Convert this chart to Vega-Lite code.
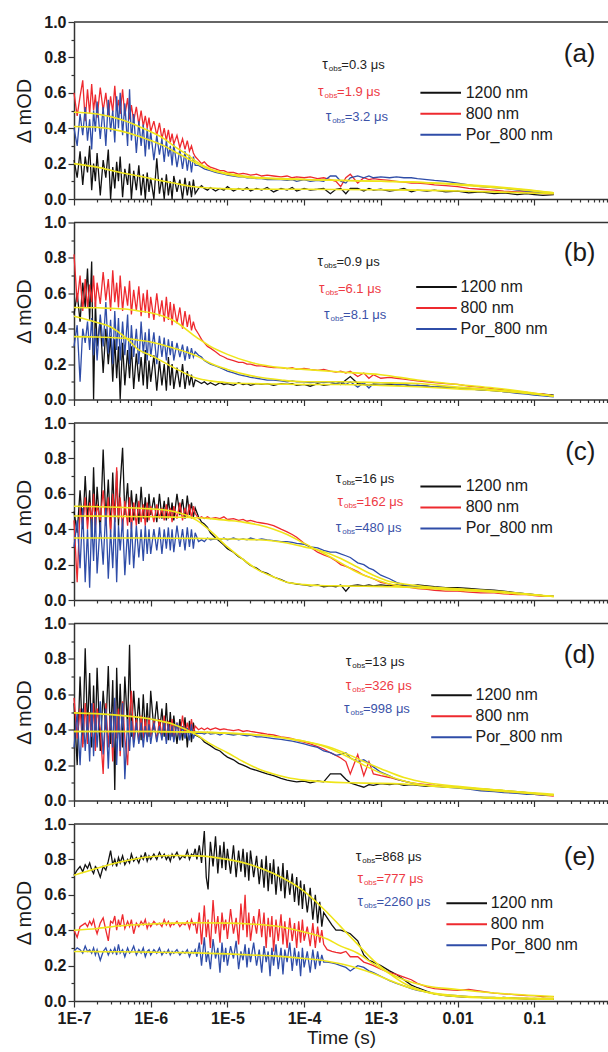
{
"$schema": "https://vega.github.io/schema/vega-lite/v6.json",
"padding": {"left": 14, "top": 14, "right": 0, "bottom": 4},
"spacing": 7.5,
"datasets": {
"a": [
{"t":1e-7,"k":0.22,"r":0.6,"b":0.4},{"t":1.1e-7,"k":0.12,"r":0.47,"b":0.3},{"t":1.2e-7,"k":0.27,"r":0.58,"b":0.48},{"t":1.3e-7,"k":0.08,"r":0.67,"b":0.36},{"t":1.4e-7,"k":0.24,"r":0.44,"b":0.52},{"t":1.5e-7,"k":0.15,"r":0.62,"b":0.33},{"t":1.6e-7,"k":0.3,"r":0.48,"b":0.45},{"t":1.7e-7,"k":0.05,"r":0.65,"b":0.28},{"t":1.8e-7,"k":0.2,"r":0.5,"b":0.5},{"t":1.9e-7,"k":0.1,"r":0.59,"b":0.38},
{"t":2e-7,"k":0.26,"r":0.46,"b":0.55},{"t":2.2e-7,"k":0.02,"r":0.63,"b":0.34},{"t":2.4e-7,"k":0.22,"r":0.5,"b":0.52},{"t":2.6e-7,"k":0.12,"r":0.6,"b":0.3},{"t":2.8e-7,"k":0.28,"r":0.47,"b":0.56},{"t":3e-7,"k":0,"r":0.58,"b":0.38},{"t":3.2e-7,"k":0.18,"r":0.49,"b":0.5},{"t":3.4e-7,"k":0.06,"r":0.64,"b":0.32},{"t":3.6e-7,"k":0.21,"r":0.5,"b":0.58},{"t":3.8e-7,"k":0.1,"r":0.56,"b":0.4},
{"t":4e-7,"k":0.24,"r":0.48,"b":0.6},{"t":4.3e-7,"k":0.01,"r":0.62,"b":0.36},{"t":4.6e-7,"k":0.17,"r":0.47,"b":0.54},{"t":5e-7,"k":0.08,"r":0.57,"b":0.3},{"t":5.3e-7,"k":0.2,"r":0.45,"b":0.62},{"t":5.6e-7,"k":0,"r":0.53,"b":0.33},{"t":6e-7,"k":0.16,"r":0.44,"b":0.48},{"t":6.5e-7,"k":0.05,"r":0.52,"b":0.26},{"t":7e-7,"k":0.19,"r":0.42,"b":0.44},{"t":7.5e-7,"k":0.02,"r":0.5,"b":0.3},
{"t":8e-7,"k":0.14,"r":0.41,"b":0.42},{"t":8.5e-7,"k":0,"r":0.47,"b":0.24},{"t":9e-7,"k":0.15,"r":0.4,"b":0.4},{"t":9.5e-7,"k":0.04,"r":0.46,"b":0.28},{"t":1e-6,"k":0.12,"r":0.38,"b":0.38},{"t":1.1e-6,"k":0,"r":0.44,"b":0.22},{"t":1.2e-6,"k":0.23,"r":0.36,"b":0.36},{"t":1.3e-6,"k":0.03,"r":0.43,"b":0.25},{"t":1.4e-6,"k":0.12,"r":0.34,"b":0.34},{"t":1.5e-6,"k":0,"r":0.4,"b":0.21},
{"t":1.6e-6,"k":0.14,"r":0.33,"b":0.33},{"t":1.7e-6,"k":0.02,"r":0.39,"b":0.24},{"t":1.8e-6,"k":0.1,"r":0.32,"b":0.3},{"t":1.9e-6,"k":0,"r":0.37,"b":0.19},{"t":2e-6,"k":0.13,"r":0.31,"b":0.31},{"t":2.2e-6,"k":0.04,"r":0.36,"b":0.18},{"t":2.4e-6,"k":0.11,"r":0.29,"b":0.28},{"t":2.6e-6,"k":0,"r":0.34,"b":0.17},{"t":2.8e-6,"k":0.12,"r":0.28,"b":0.27},{"t":3e-6,"k":0.02,"r":0.33,"b":0.16},
{"t":3.2e-6,"k":0.1,"r":0.27,"b":0.25},{"t":3.4e-6,"k":0.01,"r":0.3,"b":0.15},{"t":3.6e-6,"k":0.11,"r":0.26,"b":0.24},{"t":3.8e-6,"k":0.03,"r":0.24,"b":0.19},
{"t":4.2e-6,"k":0.06,"r":0.22,"b":0.19},{"t":4.6e-6,"k":0.075,"r":0.2,"b":0.18},{"t":5e-6,"k":0.06,"r":0.21,"b":0.17},{"t":5.5e-6,"k":0.05,"r":0.19,"b":0.165},{"t":6e-6,"k":0.065,"r":0.18,"b":0.16},{"t":7e-6,"k":0.045,"r":0.17,"b":0.15},{"t":8e-6,"k":0.06,"r":0.16,"b":0.145},{"t":9e-6,"k":0.05,"r":0.16,"b":0.14},{"t":1e-5,"k":0.07,"r":0.15,"b":0.135},{"t":1.2e-5,"k":0.045,"r":0.15,"b":0.13},
{"t":1.4e-5,"k":0.06,"r":0.14,"b":0.125},{"t":1.6e-5,"k":0.05,"r":0.145,"b":0.125},{"t":1.8e-5,"k":0.065,"r":0.14,"b":0.12},{"t":2e-5,"k":0.045,"r":0.135,"b":0.12},{"t":2.4e-5,"k":0.06,"r":0.14,"b":0.115},{"t":2.8e-5,"k":0.05,"r":0.13,"b":0.115},{"t":3.3e-5,"k":0.065,"r":0.135,"b":0.11},{"t":4e-5,"k":0.04,"r":0.13,"b":0.11},{"t":5e-5,"k":0.06,"r":0.125,"b":0.11},{"t":6e-5,"k":0.05,"r":0.13,"b":0.105},
{"t":7e-5,"k":0.065,"r":0.12,"b":0.11},{"t":8e-5,"k":0.045,"r":0.125,"b":0.1},{"t":1e-4,"k":0.06,"r":0.12,"b":0.11},{"t":1.2e-4,"k":0.05,"r":0.125,"b":0.1},{"t":1.5e-4,"k":0.055,"r":0.115,"b":0.105},{"t":1.8e-4,"k":0.06,"r":0.12,"b":0.1},{"t":2.2e-4,"k":0.03,"r":0.11,"b":0.13},{"t":2.6e-4,"k":0.055,"r":0.1,"b":0.13},{"t":3e-4,"k":0.06,"r":0.07,"b":0.1},{"t":3.5e-4,"k":0.03,"r":0.12,"b":0.09},
{"t":4e-4,"k":0.06,"r":0.14,"b":0.12},{"t":5e-4,"k":0.06,"r":0.09,"b":0.13},{"t":6e-4,"k":0.045,"r":0.12,"b":0.12},{"t":7e-4,"k":0.06,"r":0.11,"b":0.13},{"t":8e-4,"k":0.05,"r":0.115,"b":0.12},{"t":1e-3,"k":0.055,"r":0.11,"b":0.125},{"t":1.3e-3,"k":0.045,"r":0.105,"b":0.12},{"t":1.6e-3,"k":0.05,"r":0.1,"b":0.125},{"t":2e-3,"k":0.06,"r":0.095,"b":0.12},{"t":2.5e-3,"k":0.04,"r":0.09,"b":0.12},
{"t":3e-3,"k":0.05,"r":0.09,"b":0.115},{"t":4e-3,"k":0.045,"r":0.085,"b":0.11},{"t":5e-3,"k":0.05,"r":0.08,"b":0.105},{"t":7e-3,"k":0.04,"r":0.075,"b":0.1},{"t":1e-2,"k":0.045,"r":0.07,"b":0.09},{"t":1.4e-2,"k":0.035,"r":0.06,"b":0.08},{"t":2e-2,"k":0.04,"r":0.055,"b":0.07},{"t":3e-2,"k":0.03,"r":0.05,"b":0.065},{"t":4e-2,"k":0.035,"r":0.045,"b":0.06},{"t":6e-2,"k":0.025,"r":0.04,"b":0.05},
{"t":8e-2,"k":0.03,"r":0.04,"b":0.045},{"t":0.1,"k":0.025,"r":0.035,"b":0.04},{"t":0.13,"k":0.02,"r":0.03,"b":0.035},{"t":0.18,"k":0.025,"r":0.03,"b":0.03}
],
"af": [
{"t":1e-7,"k":0.2,"r":0.49,"b":0.41},{"t":2e-7,"k":0.18,"r":0.48,"b":0.405},{"t":4e-7,"k":0.15,"r":0.45,"b":0.385},{"t":7e-7,"k":0.13,"r":0.41,"b":0.355},{"t":1e-6,"k":0.115,"r":0.38,"b":0.33},{"t":1.5e-6,"k":0.1,"r":0.34,"b":0.3},{"t":2e-6,"k":0.09,"r":0.3,"b":0.27},{"t":3e-6,"k":0.075,"r":0.25,"b":0.23},{"t":4e-6,"k":0.068,"r":0.21,"b":0.2},{"t":6e-6,"k":0.062,"r":0.17,"b":0.165},
{"t":1e-5,"k":0.057,"r":0.145,"b":0.14},{"t":2e-5,"k":0.055,"r":0.125,"b":0.12},{"t":5e-5,"k":0.055,"r":0.115,"b":0.112},{"t":1e-4,"k":0.055,"r":0.11,"b":0.11},{"t":1e-3,"k":0.052,"r":0.1,"b":0.1},{"t":3e-3,"k":0.05,"r":0.095,"b":0.095},{"t":1e-2,"k":0.045,"r":0.08,"b":0.085},{"t":3e-2,"k":0.04,"r":0.065,"b":0.07},{"t":0.18,"k":0.03,"r":0.035,"b":0.035}
],
"b": [
{"t":1e-7,"k":0.48,"r":0.82,"b":0.3},{"t":1.1e-7,"k":0.6,"r":0.55,"b":0.42},{"t":1.2e-7,"k":0.44,"r":0.7,"b":0.1},{"t":1.3e-7,"k":0.66,"r":0.5,"b":0.4},{"t":1.4e-7,"k":0.52,"r":0.68,"b":0.32},{"t":1.5e-7,"k":0.74,"r":0.52,"b":0.44},{"t":1.6e-7,"k":0.45,"r":0.65,"b":0.28},{"t":1.7e-7,"k":0.78,"r":0.55,"b":0.46},{"t":1.8e-7,"k":0,"r":0.7,"b":0.25},{"t":1.9e-7,"k":0.55,"r":0.52,"b":0.4},
{"t":2e-7,"k":0.3,"r":0.66,"b":0.22},{"t":2.2e-7,"k":0.45,"r":0.54,"b":0.48},{"t":2.4e-7,"k":0.15,"r":0.72,"b":0.3},{"t":2.6e-7,"k":0.4,"r":0.56,"b":0.55},{"t":2.8e-7,"k":0.2,"r":0.68,"b":0.26},{"t":3e-7,"k":0.36,"r":0.5,"b":0.45},{"t":3.2e-7,"k":0.1,"r":0.73,"b":0.2},{"t":3.4e-7,"k":0.34,"r":0.55,"b":0.5},{"t":3.6e-7,"k":0.12,"r":0.66,"b":0.28},{"t":3.8e-7,"k":0.3,"r":0.52,"b":0.46},
{"t":4e-7,"k":0,"r":0.7,"b":0.22},{"t":4.3e-7,"k":0.32,"r":0.5,"b":0.44},{"t":4.6e-7,"k":0.08,"r":0.64,"b":0.25},{"t":5e-7,"k":0.28,"r":0.53,"b":0.48},{"t":5.3e-7,"k":0.12,"r":0.67,"b":0.2},{"t":5.6e-7,"k":0.3,"r":0.48,"b":0.42},{"t":6e-7,"k":0.06,"r":0.62,"b":0.24},{"t":6.5e-7,"k":0.26,"r":0.5,"b":0.4},{"t":7e-7,"k":0.1,"r":0.64,"b":0.2},{"t":7.5e-7,"k":0.24,"r":0.47,"b":0.44},
{"t":8e-7,"k":0.08,"r":0.6,"b":0.26},{"t":8.5e-7,"k":0.28,"r":0.49,"b":0.38},{"t":9e-7,"k":0.06,"r":0.62,"b":0.22},{"t":9.5e-7,"k":0.22,"r":0.46,"b":0.4},{"t":1e-6,"k":0.1,"r":0.58,"b":0.24},{"t":1.1e-6,"k":0.25,"r":0.45,"b":0.38},{"t":1.2e-6,"k":0.05,"r":0.6,"b":0.2},{"t":1.3e-6,"k":0.22,"r":0.47,"b":0.36},{"t":1.4e-6,"k":0.08,"r":0.56,"b":0.24},{"t":1.5e-6,"k":0.2,"r":0.44,"b":0.35},
{"t":1.6e-6,"k":0.05,"r":0.58,"b":0.22},{"t":1.7e-6,"k":0.24,"r":0.45,"b":0.34},{"t":1.8e-6,"k":0.08,"r":0.55,"b":0.25},{"t":1.9e-6,"k":0.2,"r":0.42,"b":0.33},{"t":2e-6,"k":0.06,"r":0.54,"b":0.22},{"t":2.2e-6,"k":0.18,"r":0.43,"b":0.32},{"t":2.4e-6,"k":0.07,"r":0.52,"b":0.24},{"t":2.6e-6,"k":0.2,"r":0.4,"b":0.31},{"t":2.8e-6,"k":0.06,"r":0.5,"b":0.22},{"t":3e-6,"k":0.16,"r":0.41,"b":0.3},
{"t":3.2e-6,"k":0.08,"r":0.48,"b":0.23},{"t":3.4e-6,"k":0.14,"r":0.39,"b":0.29},{"t":3.6e-6,"k":0.07,"r":0.44,"b":0.24},{"t":3.8e-6,"k":0.11,"r":0.4,"b":0.27},
{"t":4.2e-6,"k":0.1,"r":0.37,"b":0.25},{"t":4.6e-6,"k":0.09,"r":0.34,"b":0.24},{"t":5e-6,"k":0.1,"r":0.32,"b":0.22},{"t":5.5e-6,"k":0.085,"r":0.3,"b":0.21},{"t":6e-6,"k":0.095,"r":0.29,"b":0.2},{"t":7e-6,"k":0.08,"r":0.27,"b":0.19},{"t":8e-6,"k":0.095,"r":0.25,"b":0.18},{"t":9e-6,"k":0.085,"r":0.24,"b":0.17},{"t":1e-5,"k":0.09,"r":0.23,"b":0.16},{"t":1.2e-5,"k":0.08,"r":0.22,"b":0.15},
{"t":1.4e-5,"k":0.095,"r":0.21,"b":0.14},{"t":1.6e-5,"k":0.085,"r":0.21,"b":0.135},{"t":1.8e-5,"k":0.09,"r":0.2,"b":0.13},{"t":2e-5,"k":0.08,"r":0.2,"b":0.125},{"t":2.4e-5,"k":0.09,"r":0.19,"b":0.12},{"t":2.8e-5,"k":0.085,"r":0.19,"b":0.115},{"t":3.3e-5,"k":0.09,"r":0.185,"b":0.11},{"t":4e-5,"k":0.08,"r":0.18,"b":0.11},{"t":5e-5,"k":0.09,"r":0.18,"b":0.105},{"t":6e-5,"k":0.085,"r":0.175,"b":0.1},
{"t":7e-5,"k":0.09,"r":0.18,"b":0.105},{"t":8e-5,"k":0.08,"r":0.17,"b":0.1},{"t":1e-4,"k":0.085,"r":0.175,"b":0.1},{"t":1.2e-4,"k":0.075,"r":0.17,"b":0.095},{"t":1.5e-4,"k":0.09,"r":0.165,"b":0.1},{"t":1.8e-4,"k":0.08,"r":0.17,"b":0.095},{"t":2.2e-4,"k":0.085,"r":0.16,"b":0.1},{"t":2.6e-4,"k":0.09,"r":0.155,"b":0.09},{"t":3e-4,"k":0.085,"r":0.16,"b":0.1},{"t":3.5e-4,"k":0.11,"r":0.15,"b":0.085},
{"t":4e-4,"k":0.13,"r":0.16,"b":0.1},{"t":5e-4,"k":0.09,"r":0.13,"b":0.07},{"t":6e-4,"k":0.085,"r":0.15,"b":0.095},{"t":7e-4,"k":0.08,"r":0.12,"b":0.065},{"t":8e-4,"k":0.085,"r":0.14,"b":0.09},{"t":1e-3,"k":0.08,"r":0.12,"b":0.085},{"t":1.3e-3,"k":0.085,"r":0.125,"b":0.09},{"t":1.6e-3,"k":0.08,"r":0.12,"b":0.085},{"t":2e-3,"k":0.085,"r":0.115,"b":0.085},{"t":2.5e-3,"k":0.075,"r":0.11,"b":0.08},
{"t":3e-3,"k":0.08,"r":0.105,"b":0.08},{"t":4e-3,"k":0.075,"r":0.1,"b":0.075},{"t":5e-3,"k":0.07,"r":0.095,"b":0.07},{"t":7e-3,"k":0.07,"r":0.09,"b":0.07},{"t":1e-2,"k":0.065,"r":0.085,"b":0.065},{"t":1.4e-2,"k":0.06,"r":0.075,"b":0.06},{"t":2e-2,"k":0.055,"r":0.07,"b":0.055},{"t":3e-2,"k":0.05,"r":0.06,"b":0.05},{"t":4e-2,"k":0.045,"r":0.055,"b":0.045},{"t":6e-2,"k":0.04,"r":0.045,"b":0.035},
{"t":8e-2,"k":0.035,"r":0.04,"b":0.03},{"t":0.1,"k":0.03,"r":0.035,"b":0.025},{"t":0.13,"k":0.03,"r":0.03,"b":0.02},{"t":0.18,"k":0.025,"r":0.02,"b":0.015}
],
"bf": [
{"t":1e-7,"k":0.47,"r":0.52,"b":0.355},{"t":2e-7,"k":0.435,"r":0.518,"b":0.353},{"t":3e-7,"k":0.41,"r":0.515,"b":0.35},{"t":5e-7,"k":0.34,"r":0.51,"b":0.345},{"t":7e-7,"k":0.28,"r":0.5,"b":0.335},{"t":1e-6,"k":0.25,"r":0.49,"b":0.325},{"t":2e-6,"k":0.18,"r":0.445,"b":0.29},{"t":4e-6,"k":0.12,"r":0.35,"b":0.245},{"t":6e-6,"k":0.105,"r":0.3,"b":0.205},{"t":1e-5,"k":0.095,"r":0.255,"b":0.17},
{"t":2e-5,"k":0.09,"r":0.21,"b":0.135},{"t":5e-5,"k":0.087,"r":0.18,"b":0.11},{"t":1e-4,"k":0.085,"r":0.17,"b":0.1},{"t":3e-4,"k":0.085,"r":0.155,"b":0.1},{"t":1e-3,"k":0.08,"r":0.14,"b":0.095},{"t":3e-3,"k":0.072,"r":0.11,"b":0.09},{"t":1e-2,"k":0.06,"r":0.085,"b":0.07},{"t":3e-2,"k":0.05,"r":0.065,"b":0.055},{"t":0.18,"k":0.02,"r":0.02,"b":0.02}
],
"c": [
{"t":1e-7,"k":0.5,"r":0.45,"b":0.3},{"t":1.1e-7,"k":0.38,"r":0.1,"b":0.45},{"t":1.2e-7,"k":0.62,"r":0.52,"b":0.18},{"t":1.3e-7,"k":0.4,"r":0.42,"b":0.52},{"t":1.4e-7,"k":0.7,"r":0.58,"b":0.1},{"t":1.5e-7,"k":0.45,"r":0.4,"b":0.4},{"t":1.6e-7,"k":0.62,"r":0.55,"b":0.07},{"t":1.7e-7,"k":0.35,"r":0.44,"b":0.46},{"t":1.8e-7,"k":0.75,"r":0.6,"b":0.22},{"t":1.9e-7,"k":0.42,"r":0.4,"b":0.5},
{"t":2e-7,"k":0.64,"r":0.54,"b":0.15},{"t":2.2e-7,"k":0.38,"r":0.45,"b":0.44},{"t":2.4e-7,"k":0.85,"r":0.62,"b":0.2},{"t":2.6e-7,"k":0.45,"r":0.42,"b":0.52},{"t":2.8e-7,"k":0.68,"r":0.58,"b":0.12},{"t":3e-7,"k":0.4,"r":0.38,"b":0.4},{"t":3.2e-7,"k":0.72,"r":0.6,"b":0.18},{"t":3.4e-7,"k":0.44,"r":0.44,"b":0.48},{"t":3.6e-7,"k":0.73,"r":0.75,"b":0.1},{"t":3.8e-7,"k":0.42,"r":0.46,"b":0.42},
{"t":4e-7,"k":0.65,"r":0.58,"b":0.28},{"t":4.3e-7,"k":0.86,"r":0.4,"b":0.46},{"t":4.6e-7,"k":0.48,"r":0.56,"b":0.14},{"t":5e-7,"k":0.66,"r":0.42,"b":0.4},{"t":5.3e-7,"k":0.44,"r":0.58,"b":0.2},{"t":5.6e-7,"k":0.62,"r":0.4,"b":0.44},{"t":6e-7,"k":0.45,"r":0.55,"b":0.18},{"t":6.5e-7,"k":0.6,"r":0.42,"b":0.42},{"t":7e-7,"k":0.43,"r":0.56,"b":0.24},{"t":7.5e-7,"k":0.64,"r":0.44,"b":0.4},
{"t":8e-7,"k":0.46,"r":0.54,"b":0.22},{"t":8.5e-7,"k":0.58,"r":0.42,"b":0.42},{"t":9e-7,"k":0.44,"r":0.55,"b":0.26},{"t":9.5e-7,"k":0.6,"r":0.45,"b":0.4},{"t":1e-6,"k":0.48,"r":0.53,"b":0.26},{"t":1.1e-6,"k":0.58,"r":0.44,"b":0.4},{"t":1.2e-6,"k":0.44,"r":0.54,"b":0.28},{"t":1.3e-6,"k":0.6,"r":0.46,"b":0.41},{"t":1.4e-6,"k":0.46,"r":0.52,"b":0.26},{"t":1.5e-6,"k":0.56,"r":0.45,"b":0.4},
{"t":1.6e-6,"k":0.45,"r":0.54,"b":0.29},{"t":1.7e-6,"k":0.58,"r":0.46,"b":0.41},{"t":1.8e-6,"k":0.47,"r":0.52,"b":0.28},{"t":1.9e-6,"k":0.55,"r":0.44,"b":0.4},{"t":2e-6,"k":0.45,"r":0.53,"b":0.27},{"t":2.2e-6,"k":0.6,"r":0.46,"b":0.42},{"t":2.4e-6,"k":0.48,"r":0.55,"b":0.3},{"t":2.6e-6,"k":0.57,"r":0.45,"b":0.4},{"t":2.8e-6,"k":0.46,"r":0.52,"b":0.28},{"t":3e-6,"k":0.59,"r":0.47,"b":0.41},
{"t":3.2e-6,"k":0.48,"r":0.54,"b":0.3},{"t":3.4e-6,"k":0.55,"r":0.46,"b":0.4},{"t":3.6e-6,"k":0.47,"r":0.53,"b":0.29},{"t":3.8e-6,"k":0.52,"r":0.49,"b":0.38},
{"t":4.2e-6,"k":0.47,"r":0.46,"b":0.33},{"t":4.6e-6,"k":0.44,"r":0.47,"b":0.34},{"t":5e-6,"k":0.43,"r":0.46,"b":0.33},{"t":5.5e-6,"k":0.41,"r":0.47,"b":0.35},{"t":6e-6,"k":0.38,"r":0.46,"b":0.34},{"t":7e-6,"k":0.35,"r":0.465,"b":0.345},{"t":8e-6,"k":0.33,"r":0.46,"b":0.34},{"t":9e-6,"k":0.31,"r":0.47,"b":0.35},{"t":1e-5,"k":0.29,"r":0.455,"b":0.34},{"t":1.2e-5,"k":0.27,"r":0.46,"b":0.35},
{"t":1.4e-5,"k":0.245,"r":0.45,"b":0.34},{"t":1.6e-5,"k":0.23,"r":0.455,"b":0.345},{"t":1.8e-5,"k":0.21,"r":0.445,"b":0.34},{"t":2e-5,"k":0.195,"r":0.45,"b":0.35},{"t":2.4e-5,"k":0.18,"r":0.44,"b":0.34},{"t":2.8e-5,"k":0.16,"r":0.435,"b":0.345},{"t":3.3e-5,"k":0.15,"r":0.43,"b":0.34},{"t":4e-5,"k":0.13,"r":0.42,"b":0.335},{"t":5e-5,"k":0.115,"r":0.4,"b":0.33},{"t":6e-5,"k":0.1,"r":0.385,"b":0.33},
{"t":7e-5,"k":0.095,"r":0.37,"b":0.325},{"t":8e-5,"k":0.09,"r":0.355,"b":0.32},{"t":1e-4,"k":0.085,"r":0.32,"b":0.315},{"t":1.2e-4,"k":0.08,"r":0.3,"b":0.3},{"t":1.5e-4,"k":0.085,"r":0.27,"b":0.295},{"t":1.8e-4,"k":0.075,"r":0.255,"b":0.28},{"t":2.2e-4,"k":0.08,"r":0.24,"b":0.27},{"t":2.6e-4,"k":0.075,"r":0.22,"b":0.27},{"t":3e-4,"k":0.085,"r":0.2,"b":0.26},{"t":3.5e-4,"k":0.05,"r":0.19,"b":0.25},
{"t":4e-4,"k":0.08,"r":0.18,"b":0.24},{"t":5e-4,"k":0.085,"r":0.16,"b":0.21},{"t":6e-4,"k":0.08,"r":0.14,"b":0.2},{"t":7e-4,"k":0.085,"r":0.13,"b":0.18},{"t":8e-4,"k":0.08,"r":0.12,"b":0.17},{"t":1e-3,"k":0.085,"r":0.1,"b":0.14},{"t":1.3e-3,"k":0.08,"r":0.09,"b":0.12},{"t":1.6e-3,"k":0.085,"r":0.08,"b":0.1},{"t":2e-3,"k":0.08,"r":0.075,"b":0.085},{"t":2.5e-3,"k":0.08,"r":0.07,"b":0.08},
{"t":3e-3,"k":0.085,"r":0.065,"b":0.075},{"t":4e-3,"k":0.08,"r":0.06,"b":0.075},{"t":5e-3,"k":0.075,"r":0.055,"b":0.07},{"t":7e-3,"k":0.07,"r":0.05,"b":0.065},{"t":1e-2,"k":0.07,"r":0.05,"b":0.06},{"t":1.4e-2,"k":0.065,"r":0.045,"b":0.055},{"t":2e-2,"k":0.06,"r":0.04,"b":0.055},{"t":3e-2,"k":0.055,"r":0.04,"b":0.05},{"t":4e-2,"k":0.05,"r":0.035,"b":0.045},{"t":6e-2,"k":0.04,"r":0.03,"b":0.04},
{"t":8e-2,"k":0.035,"r":0.03,"b":0.035},{"t":0.1,"k":0.03,"r":0.025,"b":0.03},{"t":0.13,"k":0.025,"r":0.02,"b":0.025},{"t":0.18,"k":0.02,"r":0.02,"b":0.02}
],
"cf": [
{"t":1e-7,"k":0.53,"r":0.475,"b":0.35},{"t":1e-6,"k":0.515,"r":0.47,"b":0.35},{"t":2e-6,"k":0.5,"r":0.468,"b":0.349},{"t":4e-6,"k":0.45,"r":0.465,"b":0.348},{"t":6e-6,"k":0.39,"r":0.46,"b":0.347},{"t":1e-5,"k":0.3,"r":0.45,"b":0.345},{"t":1.6e-5,"k":0.23,"r":0.44,"b":0.343},{"t":2.5e-5,"k":0.17,"r":0.425,"b":0.34},{"t":4e-5,"k":0.13,"r":0.4,"b":0.333},{"t":6e-5,"k":0.1,"r":0.37,"b":0.322},
{"t":1e-4,"k":0.087,"r":0.32,"b":0.3},{"t":1.6e-4,"k":0.082,"r":0.275,"b":0.28},{"t":3e-4,"k":0.08,"r":0.21,"b":0.235},{"t":5e-4,"k":0.078,"r":0.155,"b":0.185},{"t":8e-4,"k":0.077,"r":0.12,"b":0.14},{"t":1.3e-3,"k":0.075,"r":0.09,"b":0.105},{"t":2e-3,"k":0.073,"r":0.075,"b":0.09},{"t":4e-3,"k":0.07,"r":0.065,"b":0.075},{"t":1e-2,"k":0.063,"r":0.055,"b":0.06},{"t":3e-2,"k":0.05,"r":0.045,"b":0.045},
{"t":0.18,"k":0.02,"r":0.02,"b":0.02}
],
"d": [
{"t":1e-7,"k":0.55,"r":0.58,"b":0.3},{"t":1.1e-7,"k":0.2,"r":0.35,"b":0.5},{"t":1.2e-7,"k":0.7,"r":0.52,"b":0.2},{"t":1.3e-7,"k":0.32,"r":0.3,"b":0.52},{"t":1.4e-7,"k":0.86,"r":0.55,"b":0.28},{"t":1.5e-7,"k":0.4,"r":0.32,"b":0.48},{"t":1.6e-7,"k":0.72,"r":0.5,"b":0.22},{"t":1.7e-7,"k":0.3,"r":0.36,"b":0.55},{"t":1.8e-7,"k":0.65,"r":0.55,"b":0.25},{"t":1.9e-7,"k":0.35,"r":0.28,"b":0.5},
{"t":2e-7,"k":0.75,"r":0.52,"b":0.3},{"t":2.2e-7,"k":0.28,"r":0.4,"b":0.56},{"t":2.4e-7,"k":0.62,"r":0.15,"b":0.26},{"t":2.6e-7,"k":0.4,"r":0.55,"b":0.52},{"t":2.8e-7,"k":0.76,"r":0.3,"b":0.18},{"t":3e-7,"k":0.32,"r":0.5,"b":0.5},{"t":3.2e-7,"k":0.68,"r":0.22,"b":0.3},{"t":3.4e-7,"k":0.06,"r":0.56,"b":0.58},{"t":3.6e-7,"k":0.75,"r":0.35,"b":0.2},{"t":3.8e-7,"k":0.38,"r":0.52,"b":0.48},
{"t":4e-7,"k":0.66,"r":0.25,"b":0.28},{"t":4.3e-7,"k":0.3,"r":0.56,"b":0.55},{"t":4.6e-7,"k":0.7,"r":0.35,"b":0.12},{"t":5e-7,"k":0.42,"r":0.2,"b":0.46},{"t":5.3e-7,"k":0.88,"r":0.48,"b":0.28},{"t":5.6e-7,"k":0.36,"r":0.62,"b":0.45},{"t":6e-7,"k":0.62,"r":0.34,"b":0.3},{"t":6.5e-7,"k":0.4,"r":0.46,"b":0.44},{"t":7e-7,"k":0.58,"r":0.33,"b":0.32},{"t":7.5e-7,"k":0.34,"r":0.48,"b":0.44},
{"t":8e-7,"k":0.6,"r":0.35,"b":0.3},{"t":8.5e-7,"k":0.38,"r":0.46,"b":0.42},{"t":9e-7,"k":0.55,"r":0.34,"b":0.33},{"t":9.5e-7,"k":0.36,"r":0.47,"b":0.43},{"t":1e-6,"k":0.62,"r":0.36,"b":0.32},{"t":1.1e-6,"k":0.4,"r":0.45,"b":0.44},{"t":1.2e-6,"k":0.56,"r":0.34,"b":0.33},{"t":1.3e-6,"k":0.38,"r":0.46,"b":0.42},{"t":1.4e-6,"k":0.52,"r":0.36,"b":0.34},{"t":1.5e-6,"k":0.36,"r":0.48,"b":0.44},
{"t":1.6e-6,"k":0.55,"r":0.34,"b":0.32},{"t":1.7e-6,"k":0.34,"r":0.45,"b":0.43},{"t":1.8e-6,"k":0.5,"r":0.36,"b":0.34},{"t":1.9e-6,"k":0.36,"r":0.46,"b":0.42},{"t":2e-6,"k":0.48,"r":0.35,"b":0.33},{"t":2.2e-6,"k":0.32,"r":0.44,"b":0.44},{"t":2.4e-6,"k":0.46,"r":0.36,"b":0.34},{"t":2.6e-6,"k":0.34,"r":0.48,"b":0.42},{"t":2.8e-6,"k":0.47,"r":0.37,"b":0.35},{"t":3e-6,"k":0.3,"r":0.44,"b":0.41},
{"t":3.2e-6,"k":0.45,"r":0.38,"b":0.34},{"t":3.4e-6,"k":0.33,"r":0.46,"b":0.43},{"t":3.6e-6,"k":0.44,"r":0.38,"b":0.35},{"t":3.8e-6,"k":0.37,"r":0.42,"b":0.38},
{"t":4.2e-6,"k":0.36,"r":0.4,"b":0.38},{"t":4.6e-6,"k":0.35,"r":0.41,"b":0.38},{"t":5e-6,"k":0.33,"r":0.4,"b":0.375},{"t":5.5e-6,"k":0.32,"r":0.41,"b":0.385},{"t":6e-6,"k":0.31,"r":0.4,"b":0.375},{"t":7e-6,"k":0.29,"r":0.41,"b":0.38},{"t":8e-6,"k":0.28,"r":0.4,"b":0.37},{"t":9e-6,"k":0.26,"r":0.405,"b":0.38},{"t":1e-5,"k":0.245,"r":0.4,"b":0.375},{"t":1.2e-5,"k":0.23,"r":0.395,"b":0.37},
{"t":1.4e-5,"k":0.21,"r":0.4,"b":0.375},{"t":1.6e-5,"k":0.2,"r":0.39,"b":0.37},{"t":1.8e-5,"k":0.19,"r":0.395,"b":0.365},{"t":2e-5,"k":0.18,"r":0.39,"b":0.37},{"t":2.4e-5,"k":0.17,"r":0.385,"b":0.36},{"t":2.8e-5,"k":0.16,"r":0.38,"b":0.36},{"t":3.3e-5,"k":0.15,"r":0.375,"b":0.355},{"t":4e-5,"k":0.14,"r":0.37,"b":0.35},{"t":5e-5,"k":0.125,"r":0.36,"b":0.345},{"t":6e-5,"k":0.115,"r":0.355,"b":0.34},
{"t":7e-5,"k":0.11,"r":0.35,"b":0.335},{"t":8e-5,"k":0.105,"r":0.34,"b":0.33},{"t":1e-4,"k":0.11,"r":0.33,"b":0.32},{"t":1.2e-4,"k":0.1,"r":0.32,"b":0.31},{"t":1.5e-4,"k":0.11,"r":0.305,"b":0.3},{"t":1.8e-4,"k":0.105,"r":0.29,"b":0.28},{"t":2.2e-4,"k":0.15,"r":0.27,"b":0.27},{"t":2.6e-4,"k":0.15,"r":0.255,"b":0.255},{"t":3e-4,"k":0.15,"r":0.24,"b":0.26},{"t":3.5e-4,"k":0.12,"r":0.22,"b":0.27},
{"t":4e-4,"k":0.1,"r":0.15,"b":0.24},{"t":5e-4,"k":0.085,"r":0.26,"b":0.22},{"t":6e-4,"k":0.075,"r":0.14,"b":0.23},{"t":7e-4,"k":0.09,"r":0.22,"b":0.21},{"t":8e-4,"k":0.085,"r":0.15,"b":0.19},{"t":1e-3,"k":0.095,"r":0.14,"b":0.16},{"t":1.3e-3,"k":0.09,"r":0.13,"b":0.14},{"t":1.6e-3,"k":0.095,"r":0.12,"b":0.12},{"t":2e-3,"k":0.085,"r":0.11,"b":0.11},{"t":2.5e-3,"k":0.09,"r":0.1,"b":0.1},
{"t":3e-3,"k":0.085,"r":0.095,"b":0.09},{"t":4e-3,"k":0.08,"r":0.09,"b":0.085},{"t":5e-3,"k":0.085,"r":0.085,"b":0.08},{"t":7e-3,"k":0.075,"r":0.08,"b":0.075},{"t":1e-2,"k":0.075,"r":0.075,"b":0.07},{"t":1.4e-2,"k":0.07,"r":0.07,"b":0.065},{"t":2e-2,"k":0.065,"r":0.06,"b":0.055},{"t":3e-2,"k":0.06,"r":0.055,"b":0.05},{"t":4e-2,"k":0.055,"r":0.05,"b":0.045},{"t":6e-2,"k":0.05,"r":0.045,"b":0.04},
{"t":8e-2,"k":0.045,"r":0.04,"b":0.035},{"t":0.1,"k":0.04,"r":0.035,"b":0.035},{"t":0.13,"k":0.035,"r":0.03,"b":0.03},{"t":0.18,"k":0.03,"r":0.025,"b":0.03}
],
"df": [
{"t":1e-7,"k":0.495,"r":0.39,"b":0.39},{"t":3e-7,"k":0.485,"r":0.39,"b":0.39},{"t":1e-6,"k":0.46,"r":0.39,"b":0.39},{"t":2e-6,"k":0.43,"r":0.388,"b":0.388},{"t":4e-6,"k":0.37,"r":0.386,"b":0.387},{"t":6e-6,"k":0.32,"r":0.384,"b":0.385},{"t":1e-5,"k":0.27,"r":0.38,"b":0.38},{"t":1.6e-5,"k":0.22,"r":0.377,"b":0.376},{"t":2.5e-5,"k":0.18,"r":0.37,"b":0.37},{"t":4e-5,"k":0.15,"r":0.362,"b":0.362},
{"t":6e-5,"k":0.13,"r":0.35,"b":0.35},{"t":1e-4,"k":0.115,"r":0.335,"b":0.335},{"t":2e-4,"k":0.105,"r":0.3,"b":0.305},{"t":4e-4,"k":0.1,"r":0.24,"b":0.255},{"t":6e-4,"k":0.098,"r":0.2,"b":0.22},{"t":1e-3,"k":0.097,"r":0.155,"b":0.18},{"t":2e-3,"k":0.093,"r":0.11,"b":0.13},{"t":4e-3,"k":0.085,"r":0.085,"b":0.1},{"t":1e-2,"k":0.075,"r":0.072,"b":0.08},{"t":3e-2,"k":0.06,"r":0.055,"b":0.06},
{"t":0.18,"k":0.03,"r":0.03,"b":0.035}
],
"e": [
{"t":1e-7,"k":0.71,"r":0.4,"b":0.28},{"t":1.1e-7,"k":0.74,"r":0.36,"b":0.3},{"t":1.2e-7,"k":0.76,"r":0.42,"b":0.29},{"t":1.3e-7,"k":0.73,"r":0.43,"b":0.27},{"t":1.4e-7,"k":0.77,"r":0.44,"b":0.31},{"t":1.5e-7,"k":0.75,"r":0.42,"b":0.28},{"t":1.6e-7,"k":0.78,"r":0.45,"b":0.29},{"t":1.7e-7,"k":0.74,"r":0.43,"b":0.27},{"t":1.8e-7,"k":0.72,"r":0.46,"b":0.3},{"t":1.9e-7,"k":0.76,"r":0.41,"b":0.26},
{"t":2e-7,"k":0.75,"r":0.38,"b":0.29},{"t":2.2e-7,"k":0.7,"r":0.44,"b":0.23},{"t":2.4e-7,"k":0.76,"r":0.47,"b":0.28},{"t":2.6e-7,"k":0.74,"r":0.4,"b":0.3},{"t":2.8e-7,"k":0.79,"r":0.34,"b":0.26},{"t":3e-7,"k":0.85,"r":0.45,"b":0.29},{"t":3.2e-7,"k":0.77,"r":0.44,"b":0.27},{"t":3.4e-7,"k":0.8,"r":0.48,"b":0.3},{"t":3.6e-7,"k":0.76,"r":0.4,"b":0.26},{"t":3.8e-7,"k":0.81,"r":0.46,"b":0.32},
{"t":4e-7,"k":0.78,"r":0.42,"b":0.27},{"t":4.3e-7,"k":0.82,"r":0.49,"b":0.29},{"t":4.6e-7,"k":0.77,"r":0.41,"b":0.25},{"t":5e-7,"k":0.8,"r":0.45,"b":0.3},{"t":5.3e-7,"k":0.78,"r":0.42,"b":0.27},{"t":5.6e-7,"k":0.83,"r":0.46,"b":0.28},{"t":6e-7,"k":0.79,"r":0.38,"b":0.31},{"t":6.5e-7,"k":0.81,"r":0.44,"b":0.26},{"t":7e-7,"k":0.78,"r":0.42,"b":0.29},{"t":7.5e-7,"k":0.82,"r":0.45,"b":0.27},
{"t":8e-7,"k":0.8,"r":0.43,"b":0.3},{"t":8.5e-7,"k":0.84,"r":0.46,"b":0.25},{"t":9e-7,"k":0.79,"r":0.41,"b":0.28},{"t":9.5e-7,"k":0.82,"r":0.44,"b":0.29},{"t":1e-6,"k":0.8,"r":0.42,"b":0.26},{"t":1.1e-6,"k":0.83,"r":0.45,"b":0.29},{"t":1.2e-6,"k":0.8,"r":0.43,"b":0.27},{"t":1.3e-6,"k":0.84,"r":0.44,"b":0.3},{"t":1.4e-6,"k":0.81,"r":0.42,"b":0.26},{"t":1.5e-6,"k":0.83,"r":0.46,"b":0.28},
{"t":1.6e-6,"k":0.8,"r":0.43,"b":0.27},{"t":1.7e-6,"k":0.82,"r":0.45,"b":0.29},{"t":1.8e-6,"k":0.79,"r":0.42,"b":0.26},{"t":1.9e-6,"k":0.83,"r":0.44,"b":0.28},{"t":2e-6,"k":0.81,"r":0.43,"b":0.27},{"t":2.2e-6,"k":0.84,"r":0.45,"b":0.29},{"t":2.4e-6,"k":0.8,"r":0.42,"b":0.26},{"t":2.6e-6,"k":0.82,"r":0.44,"b":0.28},{"t":2.8e-6,"k":0.81,"r":0.43,"b":0.27},{"t":3e-6,"k":0.85,"r":0.45,"b":0.29},
{"t":3.2e-6,"k":0.8,"r":0.41,"b":0.25},{"t":3.4e-6,"k":0.83,"r":0.46,"b":0.28},{"t":3.6e-6,"k":0.82,"r":0.43,"b":0.27},{"t":3.8e-6,"k":0.86,"r":0.44,"b":0.29},
{"t":4e-6,"k":0.8,"r":0.38,"b":0.25},{"t":4.3e-6,"k":0.88,"r":0.5,"b":0.33},{"t":4.6e-6,"k":0.78,"r":0.32,"b":0.2},{"t":5e-6,"k":0.96,"r":0.54,"b":0.36},{"t":5.3e-6,"k":0.7,"r":0.36,"b":0.22},{"t":5.6e-6,"k":0.63,"r":0.46,"b":0.28},{"t":6e-6,"k":0.9,"r":0.3,"b":0.18},{"t":6.5e-6,"k":0.76,"r":0.57,"b":0.35},{"t":7e-6,"k":0.93,"r":0.38,"b":0.24},{"t":7.5e-6,"k":0.72,"r":0.48,"b":0.3},
{"t":8e-6,"k":0.88,"r":0.33,"b":0.16},{"t":8.5e-6,"k":0.75,"r":0.5,"b":0.33},{"t":9e-6,"k":0.9,"r":0.4,"b":0.22},{"t":9.5e-6,"k":0.74,"r":0.46,"b":0.3},{"t":1e-5,"k":0.86,"r":0.35,"b":0.2},{"t":1.1e-5,"k":0.72,"r":0.52,"b":0.31},{"t":1.2e-5,"k":0.88,"r":0.38,"b":0.24},{"t":1.3e-5,"k":0.7,"r":0.47,"b":0.34},{"t":1.4e-5,"k":0.85,"r":0.32,"b":0.18},{"t":1.5e-5,"k":0.73,"r":0.55,"b":0.28},
{"t":1.6e-5,"k":0.86,"r":0.4,"b":0.23},{"t":1.7e-5,"k":0.7,"r":0.6,"b":0.32},{"t":1.8e-5,"k":0.84,"r":0.36,"b":0.19},{"t":1.9e-5,"k":0.68,"r":0.5,"b":0.3},{"t":2e-5,"k":0.85,"r":0.34,"b":0.22},{"t":2.2e-5,"k":0.7,"r":0.48,"b":0.33},{"t":2.4e-5,"k":0.82,"r":0.38,"b":0.2},{"t":2.6e-5,"k":0.66,"r":0.52,"b":0.29},{"t":2.8e-5,"k":0.8,"r":0.36,"b":0.16},{"t":3e-5,"k":0.64,"r":0.5,"b":0.31},
{"t":3.2e-5,"k":0.82,"r":0.3,"b":0.22},{"t":3.4e-5,"k":0.62,"r":0.47,"b":0.28},{"t":3.6e-5,"k":0.78,"r":0.36,"b":0.14},{"t":3.8e-5,"k":0.66,"r":0.48,"b":0.3},{"t":4e-5,"k":0.8,"r":0.28,"b":0.2},{"t":4.3e-5,"k":0.6,"r":0.46,"b":0.32},{"t":4.6e-5,"k":0.76,"r":0.34,"b":0.18},{"t":5e-5,"k":0.62,"r":0.49,"b":0.3},{"t":5.3e-5,"k":0.78,"r":0.32,"b":0.15},{"t":5.6e-5,"k":0.58,"r":0.45,"b":0.29},
{"t":6e-5,"k":0.74,"r":0.3,"b":0.22},{"t":6.5e-5,"k":0.6,"r":0.47,"b":0.33},{"t":7e-5,"k":0.72,"r":0.34,"b":0.17},{"t":7.5e-5,"k":0.56,"r":0.44,"b":0.3},{"t":8e-5,"k":0.7,"r":0.3,"b":0.2},{"t":8.5e-5,"k":0.54,"r":0.45,"b":0.28},{"t":9e-5,"k":0.68,"r":0.33,"b":0.14},{"t":9.5e-5,"k":0.52,"r":0.46,"b":0.3},{"t":1e-4,"k":0.66,"r":0.34,"b":0.19},{"t":1.1e-4,"k":0.5,"r":0.42,"b":0.28},
{"t":1.2e-4,"k":0.64,"r":0.31,"b":0.16},{"t":1.3e-4,"k":0.46,"r":0.44,"b":0.29},{"t":1.4e-4,"k":0.6,"r":0.3,"b":0.18},{"t":1.5e-4,"k":0.44,"r":0.42,"b":0.28},{"t":1.6e-4,"k":0.56,"r":0.33,"b":0.2},{"t":1.7e-4,"k":0.42,"r":0.4,"b":0.26},{"t":1.8e-4,"k":0.5,"r":0.32,"b":0.22},
{"t":2e-4,"k":0.47,"r":0.29,"b":0.22},{"t":2.3e-4,"k":0.43,"r":0.28,"b":0.215},{"t":2.6e-4,"k":0.4,"r":0.275,"b":0.21},{"t":3e-4,"k":0.4,"r":0.27,"b":0.2},{"t":3.5e-4,"k":0.39,"r":0.28,"b":0.19},{"t":4e-4,"k":0.38,"r":0.25,"b":0.17},{"t":5e-4,"k":0.34,"r":0.25,"b":0.2},{"t":6e-4,"k":0.26,"r":0.22,"b":0.19},{"t":7e-4,"k":0.23,"r":0.21,"b":0.17},{"t":8e-4,"k":0.22,"r":0.2,"b":0.16},
{"t":1e-3,"k":0.2,"r":0.18,"b":0.14},{"t":1.3e-3,"k":0.17,"r":0.16,"b":0.115},{"t":1.6e-3,"k":0.15,"r":0.15,"b":0.1},{"t":2e-3,"k":0.12,"r":0.135,"b":0.085},{"t":2.5e-3,"k":0.09,"r":0.12,"b":0.07},{"t":3e-3,"k":0.075,"r":0.1,"b":0.06},{"t":4e-3,"k":0.055,"r":0.08,"b":0.05},{"t":5e-3,"k":0.04,"r":0.07,"b":0.04},{"t":7e-3,"k":0.03,"r":0.065,"b":0.035},{"t":1e-2,"k":0.025,"r":0.06,"b":0.03},
{"t":1.4e-2,"k":0.02,"r":0.065,"b":0.025},{"t":2e-2,"k":0.02,"r":0.055,"b":0.02},{"t":3e-2,"k":0.015,"r":0.045,"b":0.02},{"t":4e-2,"k":0.02,"r":0.04,"b":0.015},{"t":6e-2,"k":0.015,"r":0.035,"b":0.015},{"t":8e-2,"k":0.015,"r":0.03,"b":0.01},{"t":0.1,"k":0.01,"r":0.03,"b":0.015},{"t":0.13,"k":0.015,"r":0.025,"b":0.01},{"t":0.18,"k":0.01,"r":0.025,"b":0.01}
],
"ef": [
{"t":1e-7,"k":0.71,"r":0.4,"b":0.28},{"t":2e-7,"k":0.75,"r":0.41,"b":0.279},{"t":4e-7,"k":0.785,"r":0.425,"b":0.278},{"t":1e-6,"k":0.815,"r":0.435,"b":0.276},{"t":2e-6,"k":0.822,"r":0.44,"b":0.274},{"t":4e-6,"k":0.82,"r":0.442,"b":0.272},{"t":1e-5,"k":0.8,"r":0.44,"b":0.266},{"t":2e-5,"k":0.77,"r":0.435,"b":0.26},{"t":4e-5,"k":0.72,"r":0.425,"b":0.255},{"t":1e-4,"k":0.62,"r":0.39,"b":0.24},
{"t":2e-4,"k":0.5,"r":0.35,"b":0.225},{"t":3e-4,"k":0.42,"r":0.31,"b":0.21},{"t":5e-4,"k":0.32,"r":0.27,"b":0.185},{"t":8e-4,"k":0.23,"r":0.21,"b":0.155},{"t":1.25e-3,"k":0.16,"r":0.16,"b":0.12},{"t":2e-3,"k":0.1,"r":0.12,"b":0.085},{"t":4e-3,"k":0.05,"r":0.085,"b":0.05},{"t":1e-2,"k":0.025,"r":0.065,"b":0.03},{"t":3e-2,"k":0.015,"r":0.045,"b":0.02},{"t":0.18,"k":0.01,"r":0.025,"b":0.015}
]
},
"vconcat": [
{
"width": 534, "height": 177, "data": {"values": [{}]},
"resolve": {"axis": {"x": "independent", "y": "independent"}},
"layer": [
{"data": {"name": "a"}, "transform": [{"fold": ["k","r","b"], "as": ["s","v"]}], "mark": {"type": "line", "strokeWidth": 1.3},
 "encoding": {
  "x": {"field": "t", "type": "quantitative", "scale": {"type": "log", "domain": [1e-7, 0.916], "nice": false}, "axis": {"orient": "bottom", "title": null, "labels": false, "tickCount": 30, "tickSize": {"condition": {"test": "abs(log(datum.value)/LN10-round(log(datum.value)/LN10))<0.01", "value": 6}, "value": 3}}},
  "y": {"field": "v", "type": "quantitative", "scale": {"domain": [0, 1], "nice": false}, "axis": {"orient": "left", "title": "Δ mOD", "values": [0,0.1,0.2,0.3,0.4,0.5,0.6,0.7,0.8,0.9,1], "labelExpr": "round(datum.value*10)%2==0 ? format(datum.value,'.1f') : ''", "tickSize": {"condition": {"test": "round(datum.value*10)%2==0", "value": 6}, "value": 3}, "titlePadding": 9, "labelPadding": 2, "labelOverlap": false, "labelFlush": false}},
  "color": {"field": "s", "type": "nominal", "scale": {"domain": ["k","r","b"], "range": ["#111111","#ee2a2f","#2f4da8"]}, "legend": {"title": null, "legendX": 358.7, "legendY": 62.7, "labelOffset": 17, "labelExpr": "datum.label=='k'?'1200 nm':(datum.label=='r'?'800 nm':'Por_800 nm')"}}
 }},
{"data": {"name": "af"}, "transform": [{"fold": ["k","r","b"], "as": ["s","v"]}], "mark": {"type": "line", "color": "#efe51a", "strokeWidth": 1.6, "interpolate": "monotone"},
 "encoding": {"x": {"field": "t", "type": "quantitative", "axis": null}, "y": {"field": "v", "type": "quantitative", "axis": null}, "detail": {"field": "s", "type": "nominal"}}},
{"mark": {"type": "rule", "color": "#333333", "strokeWidth": 1.5}, "encoding": {"y": {"datum": 1, "axis": null}}},
{"encoding": {"x": {"datum": 1.73e-4, "axis": null}, "y": {"datum": 0.758, "axis": null}}, "layer": [
 {"mark": {"type": "text", "text": "τ", "align": "left", "baseline": "middle", "fontSize": 14, "color": "#222222"}},
 {"mark": {"type": "text", "text": "obs", "align": "left", "baseline": "middle", "fontSize": 8, "dx": 6.5, "dy": 4, "color": "#222222"}},
 {"mark": {"type": "text", "text": "=0.3 μs", "align": "left", "baseline": "middle", "fontSize": 13, "dx": 19, "color": "#222222"}}]},
{"encoding": {"x": {"datum": 1.52e-4, "axis": null}, "y": {"datum": 0.607, "axis": null}}, "layer": [
 {"mark": {"type": "text", "text": "τ", "align": "left", "baseline": "middle", "fontSize": 14, "color": "#ee3a44"}},
 {"mark": {"type": "text", "text": "obs", "align": "left", "baseline": "middle", "fontSize": 8, "dx": 6.5, "dy": 4, "color": "#ee3a44"}},
 {"mark": {"type": "text", "text": "=1.9 μs", "align": "left", "baseline": "middle", "fontSize": 13, "dx": 19, "color": "#ee3a44"}}]},
{"encoding": {"x": {"datum": 1.91e-4, "axis": null}, "y": {"datum": 0.466, "axis": null}}, "layer": [
 {"mark": {"type": "text", "text": "τ", "align": "left", "baseline": "middle", "fontSize": 14, "color": "#3b52a8"}},
 {"mark": {"type": "text", "text": "obs", "align": "left", "baseline": "middle", "fontSize": 8, "dx": 6.5, "dy": 4, "color": "#3b52a8"}},
 {"mark": {"type": "text", "text": "=3.2 μs", "align": "left", "baseline": "middle", "fontSize": 13, "dx": 19, "color": "#3b52a8"}}]},
{"mark": {"type": "text", "text": "(a)", "align": "right", "baseline": "middle", "fontSize": 26, "color": "#1a1a1a"}, "encoding": {"x": {"datum": 0.63, "axis": null}, "y": {"datum": 0.82, "axis": null}}}
]
},
{
"width": 534, "height": 177, "data": {"values": [{}]},
"resolve": {"axis": {"x": "independent", "y": "independent"}},
"layer": [
{"data": {"name": "b"}, "transform": [{"fold": ["k","r","b"], "as": ["s","v"]}], "mark": {"type": "line", "strokeWidth": 1.3},
 "encoding": {
  "x": {"field": "t", "type": "quantitative", "scale": {"type": "log", "domain": [1e-7, 0.916], "nice": false}, "axis": {"orient": "bottom", "title": null, "labels": false, "tickCount": 30, "tickSize": {"condition": {"test": "abs(log(datum.value)/LN10-round(log(datum.value)/LN10))<0.01", "value": 6}, "value": 3}}},
  "y": {"field": "v", "type": "quantitative", "scale": {"domain": [0, 1], "nice": false}, "axis": {"orient": "left", "title": "Δ mOD", "values": [0,0.1,0.2,0.3,0.4,0.5,0.6,0.7,0.8,0.9,1], "labelExpr": "round(datum.value*10)%2==0 ? format(datum.value,'.1f') : ''", "tickSize": {"condition": {"test": "round(datum.value*10)%2==0", "value": 6}, "value": 3}, "titlePadding": 9, "labelPadding": 2, "labelOverlap": false, "labelFlush": false}},
  "color": {"field": "s", "type": "nominal", "scale": {"domain": ["k","r","b"], "range": ["#111111","#ee2a2f","#2f4da8"]}, "legend": {"title": null, "legendX": 354.5, "legendY": 56.4, "labelOffset": 16, "labelExpr": "datum.label=='k'?'1200 nm':(datum.label=='r'?'800 nm':'Por_800 nm')"}}
 }},
{"data": {"name": "bf"}, "transform": [{"fold": ["k","r","b"], "as": ["s","v"]}], "mark": {"type": "line", "color": "#efe51a", "strokeWidth": 1.6, "interpolate": "monotone"},
 "encoding": {"x": {"field": "t", "type": "quantitative", "axis": null}, "y": {"field": "v", "type": "quantitative", "axis": null}, "detail": {"field": "s", "type": "nominal"}}},
{"mark": {"type": "rule", "color": "#333333", "strokeWidth": 1.5}, "encoding": {"y": {"datum": 1, "axis": null}}},
{"encoding": {"x": {"datum": 1.49e-4, "axis": null}, "y": {"datum": 0.777, "axis": null}}, "layer": [
 {"mark": {"type": "text", "text": "τ", "align": "left", "baseline": "middle", "fontSize": 14, "color": "#222222"}},
 {"mark": {"type": "text", "text": "obs", "align": "left", "baseline": "middle", "fontSize": 8, "dx": 6.5, "dy": 4, "color": "#222222"}},
 {"mark": {"type": "text", "text": "=0.9 μs", "align": "left", "baseline": "middle", "fontSize": 13, "dx": 19, "color": "#222222"}}]},
{"encoding": {"x": {"datum": 1.56e-4, "axis": null}, "y": {"datum": 0.626, "axis": null}}, "layer": [
 {"mark": {"type": "text", "text": "τ", "align": "left", "baseline": "middle", "fontSize": 14, "color": "#ee3a44"}},
 {"mark": {"type": "text", "text": "obs", "align": "left", "baseline": "middle", "fontSize": 8, "dx": 6.5, "dy": 4, "color": "#ee3a44"}},
 {"mark": {"type": "text", "text": "=6.1 μs", "align": "left", "baseline": "middle", "fontSize": 13, "dx": 19, "color": "#ee3a44"}}]},
{"encoding": {"x": {"datum": 1.82e-4, "axis": null}, "y": {"datum": 0.475, "axis": null}}, "layer": [
 {"mark": {"type": "text", "text": "τ", "align": "left", "baseline": "middle", "fontSize": 14, "color": "#3b52a8"}},
 {"mark": {"type": "text", "text": "obs", "align": "left", "baseline": "middle", "fontSize": 8, "dx": 6.5, "dy": 4, "color": "#3b52a8"}},
 {"mark": {"type": "text", "text": "=8.1 μs", "align": "left", "baseline": "middle", "fontSize": 13, "dx": 19, "color": "#3b52a8"}}]},
{"mark": {"type": "text", "text": "(b)", "align": "right", "baseline": "middle", "fontSize": 26, "color": "#1a1a1a"}, "encoding": {"x": {"datum": 0.63, "axis": null}, "y": {"datum": 0.83, "axis": null}}}
]
},
{
"width": 534, "height": 177, "data": {"values": [{}]},
"resolve": {"axis": {"x": "independent", "y": "independent"}},
"layer": [
{"data": {"name": "c"}, "transform": [{"fold": ["k","r","b"], "as": ["s","v"]}], "mark": {"type": "line", "strokeWidth": 1.3},
 "encoding": {
  "x": {"field": "t", "type": "quantitative", "scale": {"type": "log", "domain": [1e-7, 0.916], "nice": false}, "axis": {"orient": "bottom", "title": null, "labels": false, "tickCount": 30, "tickSize": {"condition": {"test": "abs(log(datum.value)/LN10-round(log(datum.value)/LN10))<0.01", "value": 6}, "value": 3}}},
  "y": {"field": "v", "type": "quantitative", "scale": {"domain": [0, 1], "nice": false}, "axis": {"orient": "left", "title": "Δ mOD", "values": [0,0.1,0.2,0.3,0.4,0.5,0.6,0.7,0.8,0.9,1], "labelExpr": "round(datum.value*10)%2==0 ? format(datum.value,'.1f') : ''", "tickSize": {"condition": {"test": "round(datum.value*10)%2==0", "value": 6}, "value": 3}, "titlePadding": 9, "labelPadding": 2, "labelOverlap": false, "labelFlush": false}},
  "color": {"field": "s", "type": "nominal", "scale": {"domain": ["k","r","b"], "range": ["#111111","#ee2a2f","#2f4da8"]}, "legend": {"title": null, "legendX": 358.7, "legendY": 55.4, "labelOffset": 17, "labelExpr": "datum.label=='k'?'1200 nm':(datum.label=='r'?'800 nm':'Por_800 nm')"}}
 }},
{"data": {"name": "cf"}, "transform": [{"fold": ["k","r","b"], "as": ["s","v"]}], "mark": {"type": "line", "color": "#efe51a", "strokeWidth": 1.6, "interpolate": "monotone"},
 "encoding": {"x": {"field": "t", "type": "quantitative", "axis": null}, "y": {"field": "v", "type": "quantitative", "axis": null}, "detail": {"field": "s", "type": "nominal"}}},
{"mark": {"type": "rule", "color": "#333333", "strokeWidth": 1.5}, "encoding": {"y": {"datum": 1, "axis": null}}},
{"encoding": {"x": {"datum": 2.58e-4, "axis": null}, "y": {"datum": 0.683, "axis": null}}, "layer": [
 {"mark": {"type": "text", "text": "τ", "align": "left", "baseline": "middle", "fontSize": 14, "color": "#222222"}},
 {"mark": {"type": "text", "text": "obs", "align": "left", "baseline": "middle", "fontSize": 8, "dx": 6.5, "dy": 4, "color": "#222222"}},
 {"mark": {"type": "text", "text": "=16 μs", "align": "left", "baseline": "middle", "fontSize": 13, "dx": 19, "color": "#222222"}}]},
{"encoding": {"x": {"datum": 2.72e-4, "axis": null}, "y": {"datum": 0.551, "axis": null}}, "layer": [
 {"mark": {"type": "text", "text": "τ", "align": "left", "baseline": "middle", "fontSize": 14, "color": "#ee3a44"}},
 {"mark": {"type": "text", "text": "obs", "align": "left", "baseline": "middle", "fontSize": 8, "dx": 6.5, "dy": 4, "color": "#ee3a44"}},
 {"mark": {"type": "text", "text": "=162 μs", "align": "left", "baseline": "middle", "fontSize": 13, "dx": 19, "color": "#ee3a44"}}]},
{"encoding": {"x": {"datum": 2.58e-4, "axis": null}, "y": {"datum": 0.406, "axis": null}}, "layer": [
 {"mark": {"type": "text", "text": "τ", "align": "left", "baseline": "middle", "fontSize": 14, "color": "#3b52a8"}},
 {"mark": {"type": "text", "text": "obs", "align": "left", "baseline": "middle", "fontSize": 8, "dx": 6.5, "dy": 4, "color": "#3b52a8"}},
 {"mark": {"type": "text", "text": "=480 μs", "align": "left", "baseline": "middle", "fontSize": 13, "dx": 19, "color": "#3b52a8"}}]},
{"mark": {"type": "text", "text": "(c)", "align": "right", "baseline": "middle", "fontSize": 26, "color": "#1a1a1a"}, "encoding": {"x": {"datum": 0.63, "axis": null}, "y": {"datum": 0.834, "axis": null}}}
]
},
{
"width": 534, "height": 177, "data": {"values": [{}]},
"resolve": {"axis": {"x": "independent", "y": "independent"}},
"layer": [
{"data": {"name": "d"}, "transform": [{"fold": ["k","r","b"], "as": ["s","v"]}], "mark": {"type": "line", "strokeWidth": 1.3},
 "encoding": {
  "x": {"field": "t", "type": "quantitative", "scale": {"type": "log", "domain": [1e-7, 0.916], "nice": false}, "axis": {"orient": "bottom", "title": null, "labels": false, "tickCount": 30, "tickSize": {"condition": {"test": "abs(log(datum.value)/LN10-round(log(datum.value)/LN10))<0.01", "value": 6}, "value": 3}}},
  "y": {"field": "v", "type": "quantitative", "scale": {"domain": [0, 1], "nice": false}, "axis": {"orient": "left", "title": "Δ mOD", "values": [0,0.1,0.2,0.3,0.4,0.5,0.6,0.7,0.8,0.9,1], "labelExpr": "round(datum.value*10)%2==0 ? format(datum.value,'.1f') : ''", "tickSize": {"condition": {"test": "round(datum.value*10)%2==0", "value": 6}, "value": 3}, "titlePadding": 9, "labelPadding": 2, "labelOverlap": false, "labelFlush": false}},
  "color": {"field": "s", "type": "nominal", "scale": {"domain": ["k","r","b"], "range": ["#111111","#ee2a2f","#2f4da8"]}, "legend": {"title": null, "legendX": 369.5, "legendY": 63.7, "labelOffset": 16, "labelExpr": "datum.label=='k'?'1200 nm':(datum.label=='r'?'800 nm':'Por_800 nm')"}}
 }},
{"data": {"name": "df"}, "transform": [{"fold": ["k","r","b"], "as": ["s","v"]}], "mark": {"type": "line", "color": "#efe51a", "strokeWidth": 1.6, "interpolate": "monotone"},
 "encoding": {"x": {"field": "t", "type": "quantitative", "axis": null}, "y": {"field": "v", "type": "quantitative", "axis": null}, "detail": {"field": "s", "type": "nominal"}}},
{"mark": {"type": "rule", "color": "#333333", "strokeWidth": 1.5}, "encoding": {"y": {"datum": 1, "axis": null}}},
{"encoding": {"x": {"datum": 3.49e-4, "axis": null}, "y": {"datum": 0.784, "axis": null}}, "layer": [
 {"mark": {"type": "text", "text": "τ", "align": "left", "baseline": "middle", "fontSize": 14, "color": "#222222"}},
 {"mark": {"type": "text", "text": "obs", "align": "left", "baseline": "middle", "fontSize": 8, "dx": 6.5, "dy": 4, "color": "#222222"}},
 {"mark": {"type": "text", "text": "=13 μs", "align": "left", "baseline": "middle", "fontSize": 13, "dx": 19, "color": "#222222"}}]},
{"encoding": {"x": {"datum": 3.49e-4, "axis": null}, "y": {"datum": 0.648, "axis": null}}, "layer": [
 {"mark": {"type": "text", "text": "τ", "align": "left", "baseline": "middle", "fontSize": 14, "color": "#ee3a44"}},
 {"mark": {"type": "text", "text": "obs", "align": "left", "baseline": "middle", "fontSize": 8, "dx": 6.5, "dy": 4, "color": "#ee3a44"}},
 {"mark": {"type": "text", "text": "=326 μs", "align": "left", "baseline": "middle", "fontSize": 13, "dx": 19, "color": "#ee3a44"}}]},
{"encoding": {"x": {"datum": 3.31e-4, "axis": null}, "y": {"datum": 0.516, "axis": null}}, "layer": [
 {"mark": {"type": "text", "text": "τ", "align": "left", "baseline": "middle", "fontSize": 14, "color": "#3b52a8"}},
 {"mark": {"type": "text", "text": "obs", "align": "left", "baseline": "middle", "fontSize": 8, "dx": 6.5, "dy": 4, "color": "#3b52a8"}},
 {"mark": {"type": "text", "text": "=998 μs", "align": "left", "baseline": "middle", "fontSize": 13, "dx": 19, "color": "#3b52a8"}}]},
{"mark": {"type": "text", "text": "(d)", "align": "right", "baseline": "middle", "fontSize": 26, "color": "#1a1a1a"}, "encoding": {"x": {"datum": 0.63, "axis": null}, "y": {"datum": 0.822, "axis": null}}}
]
},
{
"width": 534, "height": 177, "data": {"values": [{}]},
"resolve": {"axis": {"x": "independent", "y": "independent"}},
"layer": [
{"data": {"name": "e"}, "transform": [{"fold": ["k","r","b"], "as": ["s","v"]}], "mark": {"type": "line", "strokeWidth": 1.3},
 "encoding": {
  "x": {"field": "t", "type": "quantitative", "scale": {"type": "log", "domain": [1e-7, 0.916], "nice": false}, "axis": {"orient": "bottom", "title": "Time (s)", "tickCount": 30, "labelFlush": false, "labelOverlap": false, "labelPadding": 3, "titlePadding": 2, "labelExpr": "abs(log(datum.value)/LN10-round(log(datum.value)/LN10))<0.01 ? (datum.value < 0.005 ? '1E' + round(log(datum.value)/LN10) : format(datum.value, '~g')) : ''", "tickSize": {"condition": {"test": "abs(log(datum.value)/LN10-round(log(datum.value)/LN10))<0.01", "value": 6}, "value": 3}}},
  "y": {"field": "v", "type": "quantitative", "scale": {"domain": [0, 1], "nice": false}, "axis": {"orient": "left", "title": "Δ mOD", "values": [0,0.1,0.2,0.3,0.4,0.5,0.6,0.7,0.8,0.9,1], "labelExpr": "round(datum.value*10)%2==0 ? format(datum.value,'.1f') : ''", "tickSize": {"condition": {"test": "round(datum.value*10)%2==0", "value": 6}, "value": 3}, "titlePadding": 9, "labelPadding": 2, "labelOverlap": false, "labelFlush": false}},
  "color": {"field": "s", "type": "nominal", "scale": {"domain": ["k","r","b"], "range": ["#111111","#ee2a2f","#2f4da8"]}, "legend": {"title": null, "legendX": 384.7, "legendY": 71.3, "labelOffset": 16, "labelExpr": "datum.label=='k'?'1200 nm':(datum.label=='r'?'800 nm':'Por_800 nm')"}}
 }},
{"data": {"name": "ef"}, "transform": [{"fold": ["k","r","b"], "as": ["s","v"]}], "mark": {"type": "line", "color": "#efe51a", "strokeWidth": 1.6, "interpolate": "monotone"},
 "encoding": {"x": {"field": "t", "type": "quantitative", "axis": null}, "y": {"field": "v", "type": "quantitative", "axis": null}, "detail": {"field": "s", "type": "nominal"}}},
{"mark": {"type": "rule", "color": "#333333", "strokeWidth": 1.5}, "encoding": {"y": {"datum": 1, "axis": null}}},
{"encoding": {"x": {"datum": 4.71e-4, "axis": null}, "y": {"datum": 0.813, "axis": null}}, "layer": [
 {"mark": {"type": "text", "text": "τ", "align": "left", "baseline": "middle", "fontSize": 14, "color": "#222222"}},
 {"mark": {"type": "text", "text": "obs", "align": "left", "baseline": "middle", "fontSize": 8, "dx": 6.5, "dy": 4, "color": "#222222"}},
 {"mark": {"type": "text", "text": "=868 μs", "align": "left", "baseline": "middle", "fontSize": 13, "dx": 19, "color": "#222222"}}]},
{"encoding": {"x": {"datum": 4.95e-4, "axis": null}, "y": {"datum": 0.692, "axis": null}}, "layer": [
 {"mark": {"type": "text", "text": "τ", "align": "left", "baseline": "middle", "fontSize": 14, "color": "#ee3a44"}},
 {"mark": {"type": "text", "text": "obs", "align": "left", "baseline": "middle", "fontSize": 8, "dx": 6.5, "dy": 4, "color": "#ee3a44"}},
 {"mark": {"type": "text", "text": "=777 μs", "align": "left", "baseline": "middle", "fontSize": 13, "dx": 19, "color": "#ee3a44"}}]},
{"encoding": {"x": {"datum": 4.95e-4, "axis": null}, "y": {"datum": 0.561, "axis": null}}, "layer": [
 {"mark": {"type": "text", "text": "τ", "align": "left", "baseline": "middle", "fontSize": 14, "color": "#3b52a8"}},
 {"mark": {"type": "text", "text": "obs", "align": "left", "baseline": "middle", "fontSize": 8, "dx": 6.5, "dy": 4, "color": "#3b52a8"}},
 {"mark": {"type": "text", "text": "=2260 μs", "align": "left", "baseline": "middle", "fontSize": 13, "dx": 19, "color": "#3b52a8"}}]},
{"mark": {"type": "text", "text": "(e)", "align": "right", "baseline": "middle", "fontSize": 26, "color": "#1a1a1a"}, "encoding": {"x": {"datum": 0.63, "axis": null}, "y": {"datum": 0.813, "axis": null}}}
]
}
],
"resolve": {"scale": {"color": "independent"}, "legend": {"color": "independent"}},
"config": {
 "font": "Liberation Sans",
 "view": {"stroke": null},
 "axis": {"grid": false, "domainColor": "#333333", "domainWidth": 1.5, "tickColor": "#333333", "tickWidth": 1.2, "labelFont": "Liberation Sans", "labelFontSize": 16, "labelFontWeight": "bold", "labelColor": "#1a1a1a", "titleFont": "Liberation Sans", "titleFontWeight": "normal", "titleColor": "#1a1a1a"},
 "axisX": {"titleFontSize": 19},
 "axisY": {"titleFontSize": 20},
 "legend": {"orient": "none", "symbolType": "M-2.9,0H2.9", "symbolSize": 196, "symbolStrokeWidth": 2, "labelFont": "Liberation Sans", "labelFontSize": 16, "labelColor": "#1a1a1a", "rowPadding": 5, "padding": 0}
}
}
